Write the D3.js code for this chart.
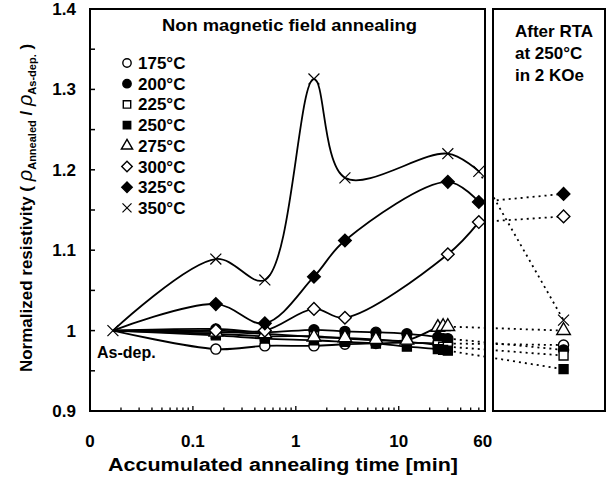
<!DOCTYPE html>
<html>
<head>
<meta charset="utf-8">
<script src="https://cdn.jsdelivr.net/npm/d3@7"></script>
<style>
body { margin: 0; background: #fff; }
text { font-family: "Liberation Sans", Arial, sans-serif; font-weight: bold; fill: #000; }
</style>
</head>
<body>
<div id="chart"></div>
<script>
// accumulated annealing times [min]
const timesHigh = [0.0167, 0.167, 0.5, 1.5, 3, 30, 60];
const timesLow = [0.0167, 0.167, 0.5, 1.5, 3, 6, 12, 24, 27, 30];

// normalized resistivity per anneal temperature
const r175 = [1.0, 0.977, 0.981, 0.981, 0.983, 0.984, 0.985, 0.984, 0.984, 0.984];
const r200 = [1.0, 1.002, 0.998, 1.001, 0.999, 0.998, 0.996, 0.992, 0.990, 0.990];
const r225 = [1.0, 0.996, 0.993, 0.993, 0.990, 0.988, 0.986, 0.982, 0.980, 0.980];
const r250 = [1.0, 0.994, 0.990, 0.988, 0.986, 0.984, 0.980, 0.977, 0.976, 0.975];
const r275 = [1.0, 0.998, 0.996, 0.992, 0.991, 0.989, 0.988, 1.004, 1.005, 1.005];
const r300 = [1.0, 1.0, 1.0, 1.027, 1.016, 1.095, 1.135];
const r325 = [1.0, 1.033, 1.009, 1.067, 1.112, 1.185, 1.16];
const r350 = [1.0, 1.089, 1.063, 1.313, 1.19, 1.22, 1.198];

// after RTA at 250C in 2 KOe (same order as temps)
const temps = ["175", "200", "225", "250", "275", "300", "325", "350"];
const rta = [0.982, 0.976, 0.969, 0.952, 1.0, 1.142, 1.17, 1.013];

const xTicks = [0.01, 0.1, 1, 10, 60];
const xTickLabels = ["0", "0.1", "1", "10", "60"];
const yTicks = [0.9, 1.0, 1.1, 1.2, 1.3, 1.4];
const yTickLabels = ["0.9", "1", "1.1", "1.2", "1.3", "1.4"];

const width = 613, height = 481;
const main = {left: 90, right: 485, top: 9, bottom: 411};
const side = {left: 493, right: 605};

const svg = d3.select("#chart").append("svg")
    .attr("width", width)
    .attr("height", height);

const x = d3.scaleLog().domain([0.01, 68.9]).range([main.left, main.right]);
const y = d3.scaleLinear().domain([0.9, 1.4]).range([main.bottom, main.top]);
// position inside the RTA panel
const xr = d3.scaleLinear().domain([0, 1]).range([side.left, side.right]);

const shapes = ["circle", "circle", "square", "square", "triangle", "diamond", "diamond", "cross"];
const fills = ["#fff", "#000", "#fff", "#000", "#fff", "#fff", "#000", "none"];
const valueLists = [r175, r200, r225, r250, r275, r300, r325, r350];

let series = temps.map((t, i) => {
    let times = i < 5 ? timesLow : timesHigh;
    return {
        temp: t,
        shape: shapes[i],
        fill: fills[i],
        rta: rta[i],
        points: valueLists[i].map((v, j) => ({t: times[j], v: v}))
    };
});

function markerPath(shape, size) {
    let types = {
        circle: d3.symbolCircle,
        square: d3.symbolSquare,
        triangle: d3.symbolTriangle,
        diamond: d3.symbolSquare,
        cross: d3.symbolTimes
    };
    return d3.symbol().type(types[shape]).size(size)();
}

function drawMarker(g, shape, fill, cx, cy, size) {
    g.append("path")
        .attr("d", markerPath(shape, size))
        .attr("transform", "translate(" + cx + "," + cy + ")" + (shape == "diamond" ? " rotate(45)" : ""))
        .attr("fill", fill)
        .attr("stroke", "#000")
        .attr("stroke-width", shape == "cross" ? 1.2 : 1.4);
}

// dotted links to the RTA panel
series.forEach(s => {
    let last = s.points[s.points.length - 1];
    svg.append("line")
        .attr("x1", x(last.t))
        .attr("y1", y(last.v))
        .attr("x2", xr(0.63))
        .attr("y2", y(s.rta))
        .attr("stroke", "#000")
        .attr("stroke-width", 1.8)
        .attr("stroke-dasharray", "2,4");
});

// gap between the two panels
svg.append("rect")
    .attr("x", main.right + 1)
    .attr("y", 0)
    .attr("width", side.left - main.right - 2)
    .attr("height", height)
    .attr("fill", "#fff");

let line = d3.line()
    .x(d => x(d.t))
    .y(d => y(d.v))
    .curve(d3.curveCatmullRom.alpha(0.5));

svg.selectAll(".series")
    .data(series)
    .enter()
    .append("path")
    .attr("class", "series")
    .attr("d", d => line(d.points))
    .attr("fill", "none")
    .attr("stroke", "#000")
    .attr("stroke-width", 1.8);

let marks = svg.append("g");
series.forEach(s => {
    s.points.forEach((p, j) => {
        if (j == 0 && s.temp != "350") return;
        drawMarker(marks, s.shape, s.fill, x(p.t), y(p.v), 80);
    });
    drawMarker(marks, s.shape, s.fill, xr(0.63), y(s.rta), 80);
});

// frames
svg.append("rect")
    .attr("x", main.left).attr("y", main.top)
    .attr("width", main.right - main.left).attr("height", main.bottom - main.top)
    .attr("fill", "none").attr("stroke", "#000").attr("stroke-width", 2);
svg.append("rect")
    .attr("x", side.left).attr("y", main.top)
    .attr("width", side.right - side.left).attr("height", main.bottom - main.top)
    .attr("fill", "none").attr("stroke", "#000").attr("stroke-width", 2);

// y ticks (inward) and labels
let yMinor = d3.range(0.95, 1.4, 0.05);
svg.selectAll(".ytick")
    .data(yMinor)
    .enter()
    .append("line")
    .attr("x1", main.left).attr("x2", main.left + 5)
    .attr("y1", d => y(d)).attr("y2", d => y(d))
    .attr("stroke", "#000").attr("stroke-width", 1.5);

svg.selectAll(".ylab")
    .data(yTicks)
    .enter()
    .append("text")
    .attr("x", 76)
    .attr("y", d => y(d) + 6)
    .attr("text-anchor", "end")
    .attr("font-size", 17)
    .text((d, i) => yTickLabels[i]);

// x ticks (log minors, inward)
let xMinor = [];
[0.01, 0.1, 1, 10].forEach(dec => {
    for (let k = 1; k <= 9; k++) {
        if (dec * k > 0.01 && dec * k < 68.9) xMinor.push(dec * k);
    }
});
svg.selectAll(".xtick")
    .data(xMinor)
    .enter()
    .append("line")
    .attr("x1", d => x(d)).attr("x2", d => x(d))
    .attr("y1", main.bottom).attr("y2", d => main.bottom - ([0.1, 1, 10].includes(d) ? 5 : 3.5))
    .attr("stroke", "#000").attr("stroke-width", 1.3);

svg.selectAll(".xlab")
    .data(xTicks)
    .enter()
    .append("text")
    .attr("x", d => x(d) + (d == 60 ? 4 : 0))
    .attr("y", 447)
    .attr("text-anchor", "middle")
    .attr("font-size", 17)
    .text((d, i) => xTickLabels[i]);

// axis titles
svg.append("text")
    .attr("x", 108)
    .attr("y", 471)
    .attr("font-size", 18)
    .attr("textLength", 350)
    .attr("lengthAdjust", "spacingAndGlyphs")
    .text("Accumulated annealing time [min]");

let ylab = svg.append("text")
    .attr("transform", "translate(32,208) rotate(-90)")
    .attr("text-anchor", "middle")
    .attr("font-size", 17);
ylab.append("tspan").text("Normalized resistivity ( ");
ylab.append("tspan").attr("font-style", "italic").attr("font-weight", "normal").attr("font-size", 20).text("ρ");
ylab.append("tspan").attr("font-size", 11).attr("dy", 4).text("Annealed");
ylab.append("tspan").attr("dy", -4).text(" / ");
ylab.append("tspan").attr("font-style", "italic").attr("font-weight", "normal").attr("font-size", 20).text("ρ");
ylab.append("tspan").attr("font-size", 11).attr("dy", 4).text("As-dep.");
ylab.append("tspan").attr("dy", -4).text(" )");

// panel titles
svg.append("text")
    .attr("x", 162)
    .attr("y", 31)
    .attr("font-size", 17)
    .attr("textLength", 255)
    .attr("lengthAdjust", "spacingAndGlyphs")
    .text("Non magnetic field annealing");

["After RTA", "at 250\u00b0C", "in 2 KOe"].forEach((t, i) => {
    svg.append("text")
        .attr("x", 515)
        .attr("y", 37 + i * 22)
        .attr("font-size", 17)
        .text(t);
});

svg.append("text")
    .attr("x", 97)
    .attr("y", 358)
    .attr("font-size", 16)
    .text("As-dep.");

// legend
let legend = svg.append("g");
series.forEach((s, i) => {
    let ly = 63 + i * 20.7;
    drawMarker(legend, s.shape, s.fill, 127, ly, 55);
    legend.append("text")
        .attr("x", 138)
        .attr("y", ly + 6)
        .attr("font-size", 17)
        .text(s.temp + "\u00b0C");
});
</script>
</body>
</html>
